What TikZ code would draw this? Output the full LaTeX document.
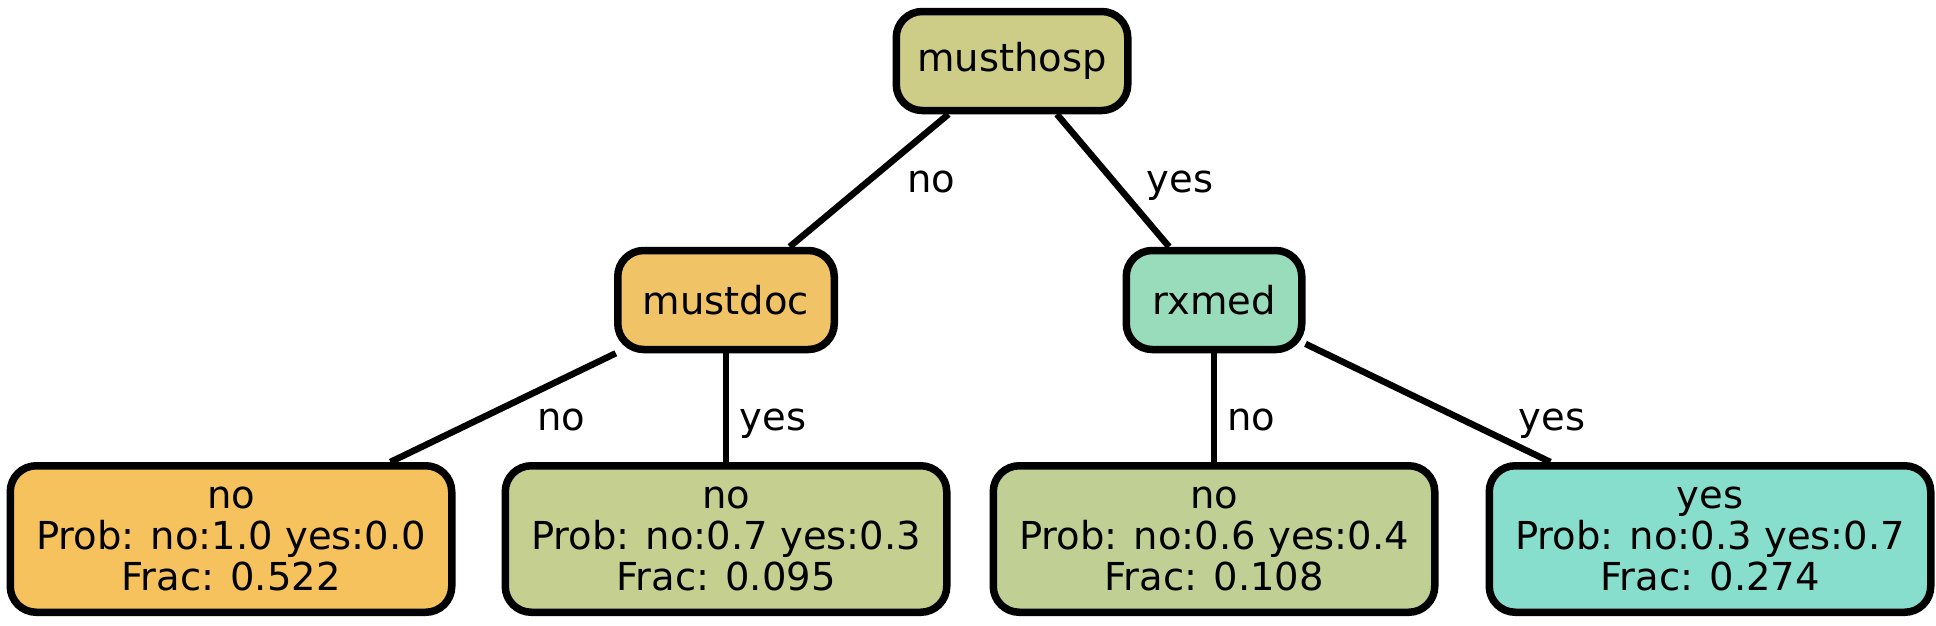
\documentclass[tikz,border=0pt]{standalone}
\usepackage{fontspec}
\setmainfont{DejaVu Sans}
\definecolor{hospfill}{RGB}{205,205,136}
\definecolor{docfill}{RGB}{240,196,102}
\definecolor{medfill}{RGB}{153,220,188}
\definecolor{leafafill}{RGB}{246,194,94}
\definecolor{leafbfill}{RGB}{197,207,143}
\definecolor{leafcfill}{RGB}{192,208,148}
\definecolor{leafdfill}{RGB}{135,222,205}
\tikzset{
    tree box/.style={draw=black,line width=7.5pt,rounded corners=26pt,inner sep=0pt,align=center,font=\fontsize{38.5}{41}\selectfont},
    split node/.style={tree box,minimum height=99pt},
    leaf node/.style={tree box,minimum width=441.5pt,minimum height=146.5pt},
    edge label/.style={anchor=base,inner sep=0pt,font=\fontsize{38.5}{41}\selectfont},
    branch/.style={line width=6.5pt},
}

\begin{document}
\begin{tikzpicture}[x=1pt,y=-1pt]
\useasboundingbox (0,0) rectangle (1936,625);
% split nodes
\node[split node,fill=hospfill,minimum width=231.5pt] (musthosp) at (1012,61) {musthosp};
\node[split node,fill=docfill,minimum width=216.5pt] (mustdoc) at (726,300) {mustdoc};
\node[split node,fill=medfill,minimum width=175.5pt] (rxmed) at (1214,300) {rxmed};
% leaves
\node[leaf node,fill=leafafill] (leafa) at (231,539) {no\\Prob: no:1.0 yes:0.0\\Frac: 0.522};
\node[leaf node,fill=leafbfill] (leafb) at (726,539) {no\\Prob: no:0.7 yes:0.3\\Frac: 0.095};
\node[leaf node,fill=leafcfill] (leafc) at (1214,539) {no\\Prob: no:0.6 yes:0.4\\Frac: 0.108};
\node[leaf node,fill=leafdfill] (leafd) at (1710,539) {yes\\Prob: no:0.3 yes:0.7\\Frac: 0.274};
% branches
\draw[branch] (musthosp) -- (mustdoc);
\draw[branch] (musthosp) -- (rxmed);
\draw[branch] (mustdoc) -- (leafa);
\draw[branch] (mustdoc) -- (leafb);
\draw[branch] (rxmed) -- (leafc);
\draw[branch] (rxmed) -- (leafd);
% branch labels
\node[edge label] (hospno) at (931,192) {no};
\node[edge label] (hospyes) at (1180,192) {yes};
\node[edge label] (docno) at (561,430) {no};
\node[edge label] (docyes) at (773,430) {yes};
\node[edge label] (medno) at (1251,430) {no};
\node[edge label] (medyes) at (1552,430) {yes};
\end{tikzpicture}
\end{document}
